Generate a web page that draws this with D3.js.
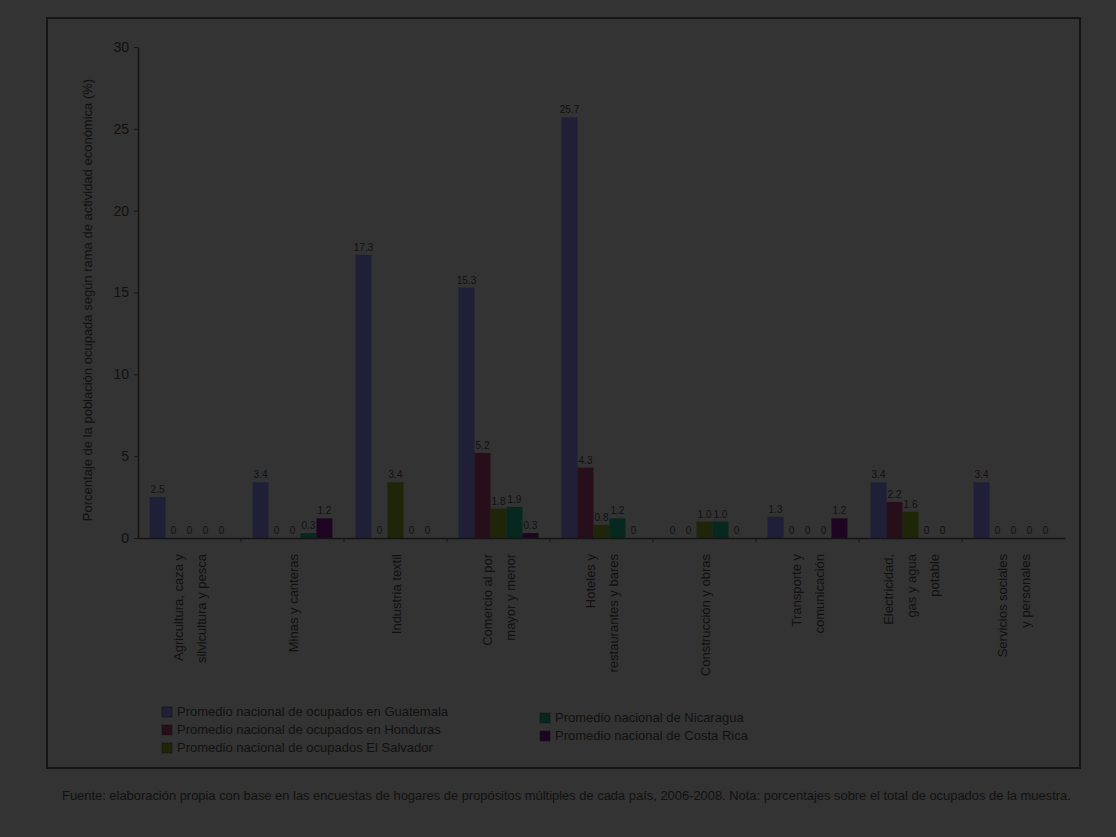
<!DOCTYPE html>
<html>
<head>
<meta charset="utf-8">
<script src="https://cdn.jsdelivr.net/npm/d3@7"></script>
<style>
  html, body { margin: 0; padding: 0; background: #333333; }
  svg { display: block; }
  text { font-family: "Liberation Sans", Arial, sans-serif; fill: #111111; }
</style>
</head>
<body>
<svg id="chart" width="1116" height="837"></svg>
<script>
// ---- data ----
const categories = [
  "Agricultura, caza y|silvicultura y pesca",
  "Minas y canteras",
  "Industria textil",
  "Comercio al por|mayor y menor",
  "Hoteles y|restaurantes y bares",
  "Construcción y obras",
  "Transporte y|comunicación",
  "Electricidad,|gas y agua|potable",
  "Servicios sociales|y personales"
];
const seriesNames = ["Guatemala", "Honduras", "El Salvador", "Nicaragua", "Costa Rica"];
const seriesGuatemala  = [2.5, 3.4, 17.3, 15.3, 25.7, 0.0, 1.3, 3.4, 3.4];
const seriesHonduras   = [0.0, 0.0, 0.0, 5.2, 4.3, 0.0, 0.0, 2.2, 0.0];
const seriesElSalvador = [0.0, 0.0, 3.4, 1.8, 0.8, 1.0, 0.0, 1.6, 0.0];
const seriesNicaragua  = [0.0, 0.3, 0.0, 1.9, 1.2, 1.0, 0.0, 0.0, 0.0];
const seriesCostaRica  = [0.0, 1.2, 0.0, 0.3, 0.0, 0.0, 1.2, 0.0, 0.0];
const seriesValues = [seriesGuatemala, seriesHonduras, seriesElSalvador, seriesNicaragua, seriesCostaRica];
const seriesColors = ["#1f1f37", "#260e1b", "#1e2508", "#06281f", "#1d0521"];
const legendLabels = [
  "Promedio nacional de ocupados en Guatemala",
  "Promedio nacional de ocupados en Honduras",
  "Promedio nacional de ocupados El Salvador",
  "Promedio nacional de Nicaragua",
  "Promedio nacional de Costa Rica"
];
const yTicks = [0, 5, 10, 15, 20, 25, 30];
const yTitle = "Porcentaje de la población ocupada según rama de actividad económica (%)";
const caption = "Fuente: elaboración propia con base en las encuestas de hogares de propósitos múltiples de cada país, 2006-2008. Nota: porcentajes sobre el total de ocupados de la muestra.";

// ---- layout ----
const svg = d3.select("#chart");
const plot = { left: 138, right: 1065, top: 47, bottom: 538 };

// outer border
svg.append("rect")
  .attr("x", 47).attr("y", 18).attr("width", 1033).attr("height", 750)
  .attr("fill", "none").attr("stroke", "#141414").attr("stroke-width", 2);

const x0 = d3.scaleBand().domain(categories).range([plot.left, plot.right]).padding(0);
const x1 = d3.scaleBand().domain(seriesNames)
  .range([x0.bandwidth() * 0.112, x0.bandwidth() * 0.888]).padding(0);
const y = d3.scaleLinear().domain([0, 30]).range([plot.bottom, plot.top]);

// bars
const groups = svg.append("g").selectAll("g")
  .data(categories).join("g")
  .attr("transform", d => `translate(${x0(d)},0)`);

groups.selectAll("rect")
  .data((c, i) => seriesNames.map((s, k) => ({ s, k, v: seriesValues[k][i] })))
  .join("rect")
  .attr("x", d => x1(d.s))
  .attr("width", x1.bandwidth())
  .attr("y", d => y(d.v))
  .attr("height", d => y(0) - y(d.v))
  .attr("fill", d => seriesColors[d.k]);

// value labels
groups.selectAll("text.val")
  .data((c, i) => seriesNames.map((s, k) => ({ s, k, v: seriesValues[k][i] })))
  .join("text")
  .attr("class", "val")
  .attr("x", d => x1(d.s) + x1.bandwidth() / 2)
  .attr("y", d => y(d.v) - 4)
  .attr("text-anchor", "middle")
  .attr("font-size", 10)
  .text(d => d.v === 0 ? "0" : d3.format(".1f")(d.v));

// y axis
const yAxis = d3.axisLeft(y).tickValues(yTicks).tickSize(4).tickSizeOuter(0).tickPadding(5);
const gy = svg.append("g").attr("transform", `translate(${plot.left},0)`).call(yAxis);
gy.select(".domain").attr("stroke", "#141414").attr("stroke-width", 1.5);
gy.selectAll(".tick line").attr("stroke", "#141414");
gy.selectAll(".tick text").attr("font-size", 14).attr("fill", "#111");

// x axis
const xAxis = d3.axisBottom(x0).tickSize(0).tickFormat("");
const gx = svg.append("g").attr("transform", `translate(0,${plot.bottom})`).call(xAxis);
gx.select(".domain").attr("stroke", "#141414").attr("stroke-width", 1.5);
gx.selectAll("line.sep")
  .data(categories.slice(1)).join("line").attr("class", "sep")
  .attr("x1", d => x0(d)).attr("x2", d => x0(d))
  .attr("y1", 0).attr("y2", 4).attr("stroke", "#141414");

// rotated category labels
categories.forEach(c => {
  const lines = c.split("|");
  const cx = x0(c) + x0.bandwidth() / 2;
  const step = 23;
  lines.forEach((ln, j) => {
    const lx = cx + (j - (lines.length - 1) / 2) * step;
    svg.append("text")
      .attr("transform", `translate(${lx + 5},${plot.bottom + 16}) rotate(-90)`)
      .attr("text-anchor", "end")
      .attr("font-size", 13)
      .text(ln);
  });
});

// y title
svg.append("text")
  .attr("transform", `translate(92,${(80 + 520) / 2}) rotate(-90)`)
  .attr("text-anchor", "middle")
  .attr("font-size", 13)
  .text(yTitle);

// legend
const legendPos = [
  { x: 162, y: 716 }, { x: 162, y: 734 }, { x: 162, y: 752 },
  { x: 540, y: 722 }, { x: 540, y: 740 }
];
const lg = svg.append("g").selectAll("g")
  .data(seriesNames).join("g")
  .attr("transform", (d, i) => `translate(${legendPos[i].x},${legendPos[i].y})`);
lg.append("rect").attr("x", 0).attr("y", -9).attr("width", 10).attr("height", 10)
  .attr("fill", (d, i) => seriesColors[i]).attr("stroke", "#111").attr("stroke-width", 0.5);
lg.append("text").attr("x", 15).attr("y", 0).attr("font-size", 13)
  .text((d, i) => legendLabels[i]);

// caption: fit its natural width to the span under the border
const cap = svg.append("text")
  .attr("x", 62).attr("y", 800)
  .attr("font-size", 13)
  .text(caption);
const w = cap.node().getComputedTextLength();
const fitSize = Math.min(14, 13 * 1010 / w);
cap.attr("font-size", fitSize);
</script>
</body>
</html>
